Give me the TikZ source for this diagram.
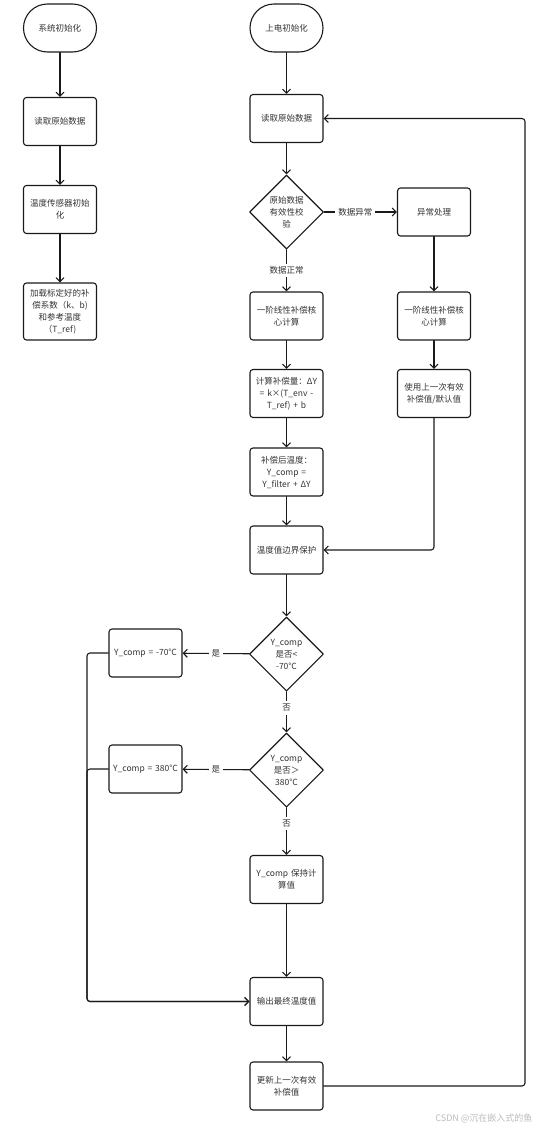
\documentclass[tikz,border=0pt]{standalone}
\usepackage{fontspec}
\setmainfont{Noto Sans CJK SC}
\usetikzlibrary{arrows.meta,shapes.geometric}
\definecolor{txt}{HTML}{333333}
\definecolor{ln}{HTML}{1A1A1A}
\definecolor{wm}{HTML}{BBBBBB}

\begin{document}
\begin{tikzpicture}[x=1pt,y=-1pt,line join=round,line cap=round,
    >={Straight Barb[length=4pt,width=8pt]},
    every node/.style={font=\fontsize{8.5}{12}\selectfont,text=txt},
    box/.style={draw=ln,line width=1.1pt,rounded corners=3pt,minimum width=73pt,
      minimum height=48pt,text width=68pt,align=center,inner sep=0pt},
    term/.style={box,rounded corners=24pt},
    decide/.style={draw=ln,line width=1.1pt,shape=diamond,minimum size=74pt,
      inner sep=0pt,text width=38pt,align=center},
    flow/.style={draw=ln,line width=1.1pt,->},
    tag/.style={fill=white,inner sep=3pt}]
  \useasboundingbox (0,0) rectangle (540,1130);
  % left column
  \node[term] (sysinit) at (60,28) {系统初始化};
  \node[box] (lread) at (60,121.5) {读取原始数据};
  \node[box] (sensor) at (60,209.5) {温度传感器初始\\化};
  \node[box,minimum height=57pt] (loadk) at (60,311.5) {加载标定好的补\\偿系数（k、b)\\和参考温度\\（T\_ref)};
  \draw[flow] (sysinit) -- (lread);
  \draw[flow] (lread) -- (sensor);
  \draw[flow] (sensor) -- (loadk);
  % main column
  \node[term] (power) at (286.5,28) {上电初始化};
  \node[box] (read) at (286.5,118.5) {读取原始数据};
  \node[decide] (valid) at (286.5,212) {原始数据\\有效性校\\验};
  \node[box] (abn) at (434,212) {异常处理};
  \node[box] (core) at (286.5,316) {一阶线性补偿核\\心计算};
  \node[box] (core2) at (434,316) {一阶线性补偿核\\心计算};
  \node[box] (calc) at (286.5,393.5) {计算补偿量：ΔY\\= k×(T\_env -\\T\_ref) + b};
  \node[box] (last) at (434,393.5) {使用上一次有效\\补偿值/默认值};
  \node[box] (after) at (286.5,472) {补偿后温度：\\Y\_comp =\\Y\_filter + ΔY};
  \node[box] (guard) at (286.5,550) {温度值边界保护};
  \node[decide] (lowchk) at (286.5,654) {Y\_comp\\是否<\\-70℃};
  \node[box] (low) at (145.5,653) {Y\_comp = -70℃};
  \node[decide] (highchk) at (286.5,770) {Y\_comp\\是否＞\\380℃};
  \node[box] (high) at (145.5,769) {Y\_comp = 380℃};
  \node[box] (keep) at (286.5,879.5) {Y\_comp 保持计\\算值};
  \node[box] (out) at (286.5,1001.5) {输出最终温度值};
  \node[box] (upd) at (286.5,1086) {更新上一次有效\\补偿值};
  \coordinate (bend) at (87,1001.5);
  \coordinate (ret) at (525,118.5);

  \draw[flow] (power) -- (read);
  \draw[flow] (read) -- (valid);
  \draw[flow] (valid) -- node[tag,pos=0.43]{数据异常} (abn);
  \draw[flow] (valid) -- node[tag]{数据正常} (core);
  \draw[flow] (abn) -- (core2);
  \draw[flow] (core2) -- (last);
  \draw[flow] (core) -- (calc);
  \draw[flow] (calc) -- (after);
  \draw[flow] (after) -- (guard);
  \draw[flow,rounded corners=3pt] (last) |- (guard);
  \draw[flow] (guard) -- (lowchk);
  \draw[flow] (lowchk) -- node[tag]{是} (low);
  \draw[flow] (lowchk) -- node[tag,pos=0.4]{否} (highchk);
  \draw[flow] (highchk) -- node[tag]{是} (high);
  \draw[flow] (highchk) -- node[tag,pos=0.33]{否} (keep);
  \draw[flow] (keep) -- (out);
  \draw[flow] (out) -- (upd);
  \draw[flow,rounded corners=3pt] (low.west) -| (bend) -- (out.west);
  \draw[flow,rounded corners=3pt] (high.west) -| (bend) -- (out.west);
  \draw[flow,rounded corners=3pt] (upd.east) -| (ret) -- (read.east);

  \node[anchor=east,text=wm,font=\fontsize{9}{11}\selectfont] (mark) at (536,1118) {CSDN @沉在嵌入式的鱼};
\end{tikzpicture}
\end{document}
